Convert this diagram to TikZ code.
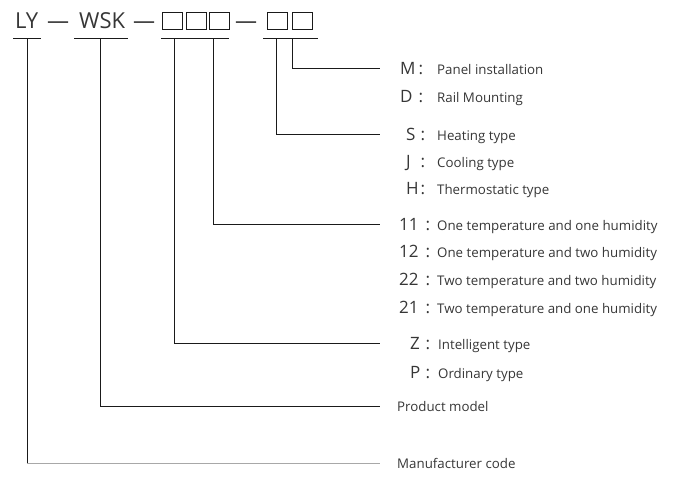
\documentclass[tikz,border=0pt]{standalone}
\usepackage{fontspec}
\setmainfont{Open Sans}
\definecolor{txt}{HTML}{363636}
\definecolor{ln}{HTML}{1a1a1a}
\definecolor{lnlight}{HTML}{a8a8a8}
\begin{document}
\begin{tikzpicture}[x=1pt,y=-1pt,
  titletext/.style={font=\fontsize{22}{24}\selectfont, text=txt, inner sep=0, anchor=base west},
  codeletter/.style={font=\fontsize{17}{20}\selectfont, text=txt, inner sep=0, anchor=base west},
  colontext/.style={font=\fontsize{17}{20}\selectfont, text=txt, inner sep=0, anchor=base},
  desc/.style={font=\fontsize{13.3}{15}\selectfont, text=txt, inner sep=0, anchor=base west},
  codebox/.style={draw=ln, line width=0.8pt, minimum width=20pt, minimum height=17pt, inner sep=0},
  conn/.style={draw=ln, line width=0.8pt},
  connlight/.style={draw=lnlight, line width=0.8pt}]
\useasboundingbox (0,0) rectangle (675,488);
% title row
\node[titletext] (ly) at (15,28) {LY};
\node[titletext] (da) at (47,28) {—};
\node[titletext] (wsk) at (79,28) {WSK};
\node[titletext] (db) at (133,28) {—};
\node[codebox] (b1) at (172.5,20.5) {};
\node[codebox] (b2) at (196.5,20.5) {};
\node[codebox] (b3) at (219.5,20.5) {};
\node[titletext] (dc) at (235,28) {—};
\node[codebox] (b4) at (277.5,20.5) {};
\node[codebox] (b5) at (302.5,20.5) {};
% underlines
\coordinate (ulyA) at (13,38); \coordinate (ulyB) at (41,38);
\coordinate (uwA) at (74,38); \coordinate (uwB) at (128,38);
\coordinate (ubA) at (161,38); \coordinate (ubB) at (229,38);
\coordinate (ucA) at (263,38); \coordinate (ucB) at (318,38);
\draw[conn] (ulyA) -- (ulyB);
\draw[conn] (uwA) -- (uwB);
\draw[conn] (ubA) -- (ubB);
\draw[conn] (ucA) -- (ucB);
\coordinate (v1) at (27,38);
\coordinate (v2) at (100,38);
\coordinate (v3) at (174,38);
\coordinate (v4) at (213,38);
\coordinate (v5) at (276,38);
\coordinate (v6) at (292,38);
% right side labels
\node[codeletter] (cM) at (400,74) {M};  \node[colontext] at (421,74) {:}; \node[desc] (tM) at (437,74) {Panel installation};
\node[codeletter] (cD) at (400,102) {D}; \node[colontext] at (421,102) {:}; \node[desc] (tD) at (437,102) {Rail Mounting};
\node[codeletter] (cS) at (406,140) {S}; \node[colontext] at (423,140) {:}; \node[desc] (tS) at (437,140) {Heating type};
\node[codeletter] (cJ) at (406,167) {J}; \node[colontext] at (423,167) {:}; \node[desc] (tJ) at (437,167) {Cooling type};
\node[codeletter] (cH) at (406,194) {H}; \node[colontext] at (423,194) {:}; \node[desc] (tH) at (437,194) {Thermostatic type};
\node[codeletter] (c11) at (399,230) {11}; \node[colontext] at (428,230) {:}; \node[desc] (t11) at (437,230) {One temperature and one humidity};
\node[codeletter] (c12) at (399,257) {12}; \node[colontext] at (428,257) {:}; \node[desc] (t12) at (437,257) {One temperature and two humidity};
\node[codeletter] (c22) at (399,285) {22}; \node[colontext] at (428,285) {:}; \node[desc] (t22) at (437,285) {Two temperature and two humidity};
\node[codeletter] (c21) at (399,313) {21}; \node[colontext] at (428,313) {:}; \node[desc] (t21) at (437,313) {Two temperature and one humidity};
\node[codeletter] (cZ) at (410,349) {Z}; \node[colontext] at (428,349) {:}; \node[desc] (tZ) at (438,349) {Intelligent type};
\node[codeletter] (cP) at (410,378) {P}; \node[colontext] at (428,378) {:}; \node[desc] (tP) at (438,378) {Ordinary type};
\node[desc] (pm) at (397,411) {Product model};
\node[desc] (mc) at (397,468) {Manufacturer code};
% connectors
\draw[conn] (v6) |- ([xshift=-20pt]cM.west);
\draw[conn] (v5) |- ([xshift=-26pt]cS.west);
\draw[conn] (v4) |- ([xshift=-19pt]c11.west);
\draw[conn] (v3) |- ([xshift=-30pt]cZ.west);
\draw[conn] (v2) |- ([xshift=-17pt]pm.west);
\draw[connlight] (v1) -- (v1 |- mc.west) -- ([xshift=-17pt]mc.west);
\draw[conn] (v1) -- ([yshift=-0.4pt]v1 |- mc.west);
\end{tikzpicture}
\end{document}
